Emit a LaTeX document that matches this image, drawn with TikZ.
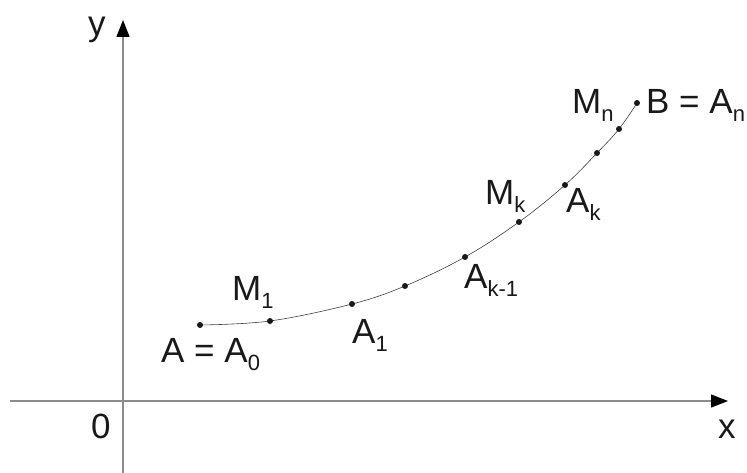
\documentclass[tikz,border=0pt]{standalone}
\usepackage{fontspec}
\setmainfont{Liberation Sans}
\usetikzlibrary{arrows.meta}
\newcommand\mysub[1]{\raisebox{-8pt}{\fontsize{22}{22}\selectfont #1}}
\begin{document}
\begin{tikzpicture}[x=1pt,y=-1pt,
  axisline/.style={draw=black!45,line width=1.4pt,-{Triangle[length=17pt,width=13pt,fill=black,color=black]}},
  curveline/.style={draw=black!75,line width=0.6pt},
  lbl/.style={anchor=base west,inner sep=0pt,font=\fontsize{35}{40}\selectfont,text=black!90},
  dotstyle/.style={fill=black!90}]
\useasboundingbox (0,0) rectangle (747,473);
% axes
\coordinate (ybot) at (123,473);
\coordinate (ytop) at (123,20);
\coordinate (xleft) at (10,401);
\coordinate (xright) at (728,401);
\draw[axisline] (ybot) -- (ytop);
\draw[axisline] (xleft) -- (xright);
% curve points
\coordinate (A0) at (200,325);
\coordinate (M1) at (270,321);
\coordinate (A1) at (352,304);
\coordinate (P4) at (405,286);
\coordinate (Ak1) at (465,257);
\coordinate (Mk) at (519,222);
\coordinate (Ak) at (565,185);
\coordinate (P8) at (597,153);
\coordinate (Mn) at (619,129);
\coordinate (B) at (637,103);
\draw[curveline] plot[smooth,tension=0.6] coordinates {(A0) (M1) (A1) (P4) (Ak1) (Mk) (Ak) (P8) (Mn) (B)};
\foreach \p in {A0,M1,A1,P4,Ak1,Mk,Ak,P8,Mn,B}
  \fill[dotstyle] (\p) circle (3pt);
% labels
\node[lbl] (ly) at (88,36) {y};
\node[lbl] (l0) at (91,438) {0};
\node[lbl] (lx) at (718,438) {x};
\node[lbl] (lA0) at (161,362) {A = A\mysub{0}};
\node[lbl] (lM1) at (232,300) {M\mysub{1}};
\node[lbl] (lA1) at (352,343) {A\mysub{1}};
\node[lbl] (lAk1) at (464,288) {A\mysub{k-1}};
\node[lbl] (lMk) at (485,205) {M\mysub{k}};
\node[lbl] (lAk) at (566,213) {A\mysub{k}};
\node[lbl] (lMn) at (572,114) {M\mysub{n}};
\node[lbl] (lB) at (646,114) {B = A\mysub{n}};
\end{tikzpicture}
\end{document}
